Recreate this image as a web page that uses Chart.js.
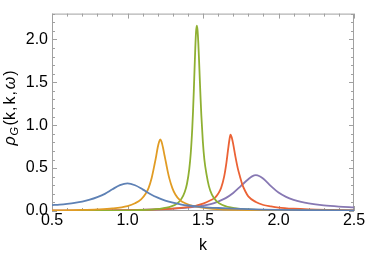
<!DOCTYPE html>
<html>
<head>
<meta charset="utf-8">
<script src="https://cdn.jsdelivr.net/npm/chart.js@4"></script>
<style>
  html, body { margin: 0; padding: 0; background: #fff; }
</style>
</head>
<body>
<canvas id="grafica" width="366" height="255"></canvas>
<script>
// valores
const kAzul = [0.5, 0.55, 0.6, 0.65, 0.7, 0.75, 0.8, 0.85, 0.9, 0.95, 1.0, 1.05, 1.1, 1.15, 1.2, 1.25, 1.3, 1.35, 1.4, 1.5, 1.6, 1.7, 1.8, 1.9, 2.0, 2.2, 2.5];
const rhoAzul = [0.068, 0.075, 0.084, 0.095, 0.11, 0.132, 0.162, 0.2, 0.253, 0.301, 0.322, 0.3, 0.252, 0.198, 0.155, 0.122, 0.097, 0.078, 0.064, 0.046, 0.035, 0.027, 0.021, 0.017, 0.014, 0.01, 0.007];

const kNaranja = [0.5, 0.7, 0.8, 0.9, 1.0, 1.05, 1.09, 1.12, 1.14, 1.16, 1.18, 1.19, 1.2, 1.21, 1.217, 1.225, 1.235, 1.245, 1.257, 1.267, 1.277, 1.297, 1.317, 1.347, 1.39, 1.44, 1.52, 1.62, 1.72, 1.9, 2.1, 2.5];
const rhoNaranja = [0.007, 0.012, 0.018, 0.03, 0.058, 0.09, 0.135, 0.2, 0.27, 0.385, 0.55, 0.64, 0.74, 0.81, 0.833, 0.81, 0.74, 0.65, 0.545, 0.456, 0.38, 0.267, 0.193, 0.126, 0.085, 0.058, 0.035, 0.02, 0.014, 0.009, 0.006, 0.004];

const kVerde = [0.5, 0.86, 1.06, 1.21, 1.29, 1.33, 1.359, 1.379, 1.394, 1.409, 1.419, 1.429, 1.434, 1.439, 1.444, 1.449, 1.454, 1.459, 1.464, 1.469, 1.474, 1.479, 1.484, 1.489, 1.499, 1.509, 1.524, 1.539, 1.559, 1.589, 1.629, 1.709, 1.859, 2.059, 2.5];
const rhoVerde = [0.002, 0.0044, 0.01, 0.025, 0.053, 0.089, 0.147, 0.221, 0.318, 0.488, 0.676, 0.966, 1.163, 1.394, 1.65, 1.9, 2.088, 2.16, 2.105, 1.956, 1.75, 1.525, 1.309, 1.115, 0.81, 0.6, 0.42, 0.29, 0.19, 0.116, 0.07, 0.033, 0.013, 0.0057, 0.0019];

const kRojo = [0.5, 1.0, 1.2, 1.3, 1.4, 1.45, 1.5, 1.55, 1.58, 1.6, 1.62, 1.64, 1.655, 1.665, 1.675, 1.682, 1.69, 1.7, 1.715, 1.73, 1.745, 1.76, 1.78, 1.8, 1.85, 1.9, 1.95, 2.0, 2.1, 2.2, 2.35, 2.5];
const rhoRojo = [0.004, 0.01, 0.018, 0.027, 0.045, 0.06, 0.085, 0.125, 0.155, 0.2, 0.27, 0.4, 0.56, 0.7, 0.83, 0.891, 0.86, 0.78, 0.63, 0.5, 0.4, 0.31, 0.23, 0.17, 0.105, 0.07, 0.053, 0.04, 0.026, 0.018, 0.012, 0.008];

const kMorado = [0.5, 1.0, 1.1, 1.2, 1.3, 1.4, 1.5, 1.55, 1.6, 1.65, 1.7, 1.75, 1.8, 1.825, 1.85, 1.875, 1.9, 1.95, 2.0, 2.05, 2.1, 2.15, 2.2, 2.3, 2.4, 2.5];
const rhoMorado = [0.004, 0.01, 0.014, 0.019, 0.027, 0.04, 0.062, 0.08, 0.11, 0.15, 0.21, 0.29, 0.37, 0.403, 0.417, 0.405, 0.375, 0.29, 0.215, 0.165, 0.13, 0.105, 0.088, 0.066, 0.052, 0.042];

const ticksX = [0.5, 1.0, 1.5, 2.0, 2.5];
const ticksY = [0.0, 0.5, 1.0, 1.5, 2.0];

function puntos(ks, vals) {
    return ks.map((k, i) => ({ x: k, y: vals[i] }));
}

// marco con marcas hacia dentro, estilo Mathematica
const marco = {
    id: 'marco',
    beforeDatasetsDraw(chart) {
        const { ctx, chartArea: a, scales: { x, y } } = chart;
        ctx.save();
        ctx.strokeStyle = '#a0a0a0';
        ctx.lineWidth = 1;
        ctx.beginPath();
        for (let i = 0; i <= 20; i++) {
            const px = Math.round(x.getPixelForValue(0.5 + i * 0.1)) + 0.5;
            const len = i % 5 === 0 ? 5 : 3;
            ctx.moveTo(px, a.bottom); ctx.lineTo(px, a.bottom - len);
            ctx.moveTo(px, a.top); ctx.lineTo(px, a.top + len);
        }
        for (let i = 0; i <= 23; i++) {
            const py = Math.round(y.getPixelForValue(i * 0.1)) + 0.5;
            const len = i % 5 === 0 ? 5 : 3;
            ctx.moveTo(a.left, py); ctx.lineTo(a.left + len, py);
            ctx.moveTo(a.right, py); ctx.lineTo(a.right - len, py);
        }
        ctx.stroke();
        ctx.strokeRect(a.left + 0.5, a.top + 0.5, a.width - 1, a.height - 1);
        ctx.restore();
    },
    afterDraw(chart) {
        // titulo del eje y: rho_G(k,k,omega)
        const { ctx } = chart;
        ctx.save();
        ctx.translate(11, 108);
        ctx.rotate(-Math.PI / 2);
        ctx.fillStyle = '#000';
        ctx.textBaseline = 'middle';
        const piezas = [
            { t: 'ρ', f: 'italic 16px "Liberation Sans", Arial', dy: 0, gap: 1 },
            { t: 'G', f: 'italic 11px "Liberation Sans", Arial', dy: 4, gap: 1.5 },
            { t: '(k', f: '16px "Liberation Sans", Arial', dy: 0, gap: 1 },
            { t: ',', f: '16px "Liberation Sans", Arial', dy: 0, gap: 2 },
            { t: 'k', f: '16px "Liberation Sans", Arial', dy: 0, gap: 1 },
            { t: ',', f: '16px "Liberation Sans", Arial', dy: 0, gap: 2 },
            { t: 'ω', f: 'italic 16px "Liberation Sans", Arial', dy: 0, gap: 1 },
            { t: ')', f: '16px "Liberation Sans", Arial', dy: 0, gap: 0 }
        ];
        let total = 0;
        piezas.forEach(p => { ctx.font = p.f; p.w = ctx.measureText(p.t).width; total += p.w + p.gap; });
        let cx = -total / 2;
        piezas.forEach(p => {
            ctx.font = p.f;
            ctx.fillText(p.t, cx, p.dy);
            cx += p.w + p.gap;
        });
        ctx.restore();
    }
};

const colores = ['#5e81b5', '#e19c24', '#8fb032', '#eb6235', '#8778b3'];
const series = [
    puntos(kAzul, rhoAzul),
    puntos(kNaranja, rhoNaranja),
    puntos(kVerde, rhoVerde),
    puntos(kRojo, rhoRojo),
    puntos(kMorado, rhoMorado)
];

const fuente = { family: '"Liberation Sans", Arial, sans-serif', size: 16 };

new Chart(document.getElementById('grafica').getContext('2d'), {
    type: 'line',
    data: {
        datasets: series.map((d, i) => ({
            data: d,
            borderColor: colores[i],
            borderWidth: 1.8,
            pointRadius: 0,
            fill: false,
            cubicInterpolationMode: 'monotone'
        }))
    },
    options: {
        responsive: false,
        animation: false,
        devicePixelRatio: 1,
        layout: { padding: { top: 1, right: 12, left: 0, bottom: 0 } },
        plugins: {
            legend: { display: false },
            tooltip: { enabled: false }
        },
        scales: {
            x: {
                type: 'linear',
                min: 0.5,
                max: 2.5,
                afterBuildTicks: s => { s.ticks = ticksX.map(v => ({ value: v })); },
                afterFit: s => { s.height = 44; },
                ticks: {
                    color: '#000',
                    font: fuente,
                    padding: 0,
                    maxRotation: 0,
                    autoSkip: false,
                    callback: v => v.toFixed(1)
                },
                grid: { display: false, drawTicks: false },
                border: { display: false },
                title: {
                    display: true,
                    text: 'k',
                    color: '#000',
                    font: fuente,
                    padding: { top: 0, bottom: 0 }
                }
            },
            y: {
                min: 0,
                max: 2.3,
                afterBuildTicks: s => { s.ticks = ticksY.map(v => ({ value: v })); },
                afterFit: s => { s.width = 52; },
                ticks: {
                    color: '#000',
                    font: fuente,
                    padding: 4,
                    autoSkip: false,
                    callback: v => v.toFixed(1)
                },
                grid: { display: false, drawTicks: false },
                border: { display: false }
            }
        }
    },
    plugins: [marco]
});
</script>
</body>
</html>
